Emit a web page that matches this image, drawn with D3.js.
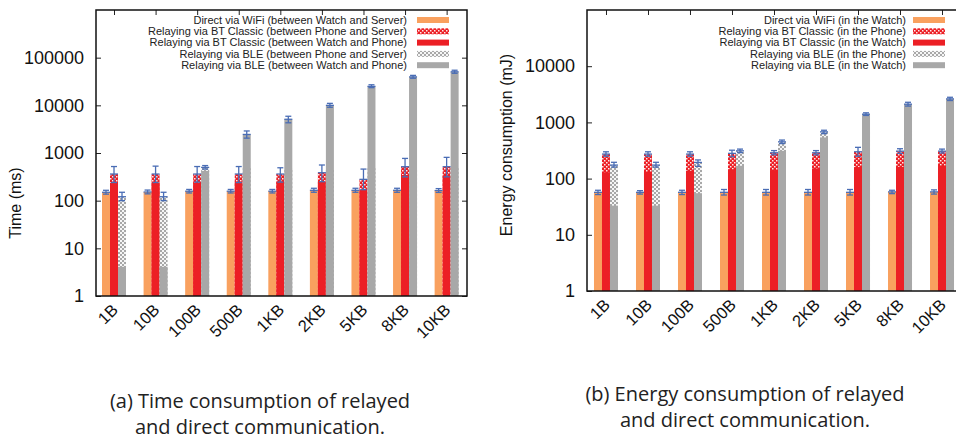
<!DOCTYPE html>
<html>
<head>
<meta charset="utf-8">
<script src="https://cdn.jsdelivr.net/npm/d3@7"></script>
<style>
  body { margin: 0; background: #fff; }
  svg { display: block; }
</style>
</head>
<body>
<svg id="chart" width="956" height="440"></svg>
<script>
// ---- data ----
var categories = ["1B", "10B", "100B", "500B", "1KB", "2KB", "5KB", "8KB", "10KB"];

// (a) time, ms
var timeLegend = [
  "Direct via WiFi (between Watch and Server)",
  "Relaying via BT Classic (between Phone and Server)",
  "Relaying via BT Classic (between Watch and Phone)",
  "Relaying via BLE (between Phone and Server)",
  "Relaying via BLE (between Watch and Phone)"
];
var timeWifi = [150, 152, 158, 158, 158, 165, 165, 165, 163];
var timeWifiErr = [[137,165],[139,167],[145,172],[145,172],[145,172],[150,182],[150,182],[150,182],[149,179]];
var timeBtServer = [362, 362, 362, 362, 362, 386, 280, 516, 516];
var timeBtServerErr = [[240,520],[240,530],[245,520],[240,520],[245,490],[250,560],[170,460],[316,770],[316,810]];
var timeBtWatch = [238, 240, 240, 250, 250, 250, 168, 345, 335];
var timeBleServer = [121, 121, 500, 480, 480, 480, 480, 480, 480];
var timeBleServerErr = [[100,150],[100,150],[460,545],null,null,null,null,null,null];
var timeBleWatch = [4.1, 4.1, 420, 2450, 5100, 10000, 25000, 39500, 50500];
var timeBleWatchErr = [null,null,null,[2050,2900],[4300,5900],[9100,11000],[23500,27000],[37000,42500],[47000,54500]];

// (b) energy, mJ
var energyLegend = [
  "Direct via WiFi (in the Watch)",
  "Relaying via BT Classic (in the Phone)",
  "Relaying via BT Classic (in the Watch)",
  "Relaying via BLE (in the Phone)",
  "Relaying via BLE (in the Watch)"
];
var energyWifi = [57, 57, 57, 57, 57, 57, 57, 58, 58];
var energyWifiErr = [[52,62],[53,61],[52,62],[51,64],[51,64],[51,64],[51,64],[54,62],[53,63]];
var energyBtPhone = [273, 273, 273, 281, 288, 288, 300, 308, 308];
var energyBtPhoneErr = [[250,300],[250,300],[250,300],[245,320],[265,315],[265,315],[250,360],[280,340],[285,335]];
var energyBtWatch = [130, 131, 138, 146, 142, 152, 160, 162, 169];
var energyBlePhone = [174, 174, 194, 312, 451, 679, 700, 700, 700];
var energyBlePhoneErr = [[160,195],[160,195],[165,215],[290,335],[420,485],[630,725],null,null,null];
var energyBleWatch = [33, 33, 55, 169, 312, 540, 1400, 2110, 2620];
var energyBleWatchErr = [null,null,null,null,null,null,[1330,1480],[1950,2280],[2450,2800]];

var yTicksTime = [1, 10, 100, 1000, 10000, 100000];
var yTicksEnergy = [1, 10, 100, 1000, 10000];

// ---- drawing ----
var ORANGE = "#f9a15f", RED = "#ec1f25", GRAY = "#a8a8a8", ERR = "#4a6db5";
var FONT = "'Liberation Sans', Arial, Helvetica, sans-serif";
var barW = 8;

var svg = d3.select("#chart");
var defs = svg.append("defs");

function checker(id, color, sq) {
  var p = defs.append("pattern")
    .attr("id", id)
    .attr("patternUnits", "userSpaceOnUse")
    .attr("width", 4).attr("height", 4);
  p.append("rect").attr("width", 4).attr("height", 4).attr("fill", color);
  p.append("rect").attr("x", 0).attr("y", 0).attr("width", sq).attr("height", sq).attr("fill", "#fff").attr("opacity", 0.9);
  p.append("rect").attr("x", 2).attr("y", 2).attr("width", sq).attr("height", sq).attr("fill", "#fff").attr("opacity", 0.9);
}
checker("redCheck", RED, 1.5);
checker("grayCheck", GRAY, 2);

function plot_panel(p) {
  var g = svg.append("g");
  var x = d3.scaleLinear().domain(p.xdomain).range([p.left, p.right]);
  var y = d3.scaleLog().domain(p.ydomain).range([p.bottom, p.top]);

  // bars
  p.series.forEach(function(s) {
    g.append("g").selectAll("rect")
      .data(s.vals)
      .join("rect")
      .attr("x", function(d, i) { return x(i) + s.off; })
      .attr("width", barW)
      .attr("y", function(d) { return y(d); })
      .attr("height", function(d) { return y(p.ydomain[0]) - y(d); })
      .attr("fill", s.fill);
  });

  // error bars
  p.series.forEach(function(s) {
    if (!s.err) return;
    var eb = g.append("g").attr("stroke", ERR).attr("stroke-width", 1.3);
    s.err.forEach(function(e, i) {
      if (!e) return;
      var cx = x(i) + s.off + barW / 2;
      eb.append("line").attr("x1", cx).attr("x2", cx).attr("y1", y(e[0])).attr("y2", y(e[1]));
      eb.append("line").attr("x1", cx - 3).attr("x2", cx + 3).attr("y1", y(e[0])).attr("y2", y(e[0]));
      eb.append("line").attr("x1", cx - 3).attr("x2", cx + 3).attr("y1", y(e[1])).attr("y2", y(e[1]));
      eb.append("line").attr("x1", cx - 4).attr("x2", cx + 4).attr("y1", y(s.vals[i])).attr("y2", y(s.vals[i]));
    });
  });

  // axes
  var yAxis = d3.axisLeft(y).tickValues(p.yticks).tickFormat(d3.format("d")).tickSize(-5).tickPadding(12);
  var ya = g.append("g").attr("transform", "translate(" + p.left + ",0)").call(yAxis);
  ya.selectAll("text").attr("font-size", "18px").attr("font-family", FONT).attr("fill", "#111");

  g.append("g").attr("transform", "translate(" + p.right + ",0)")
    .call(d3.axisRight(y).tickValues(p.yticks).tickFormat("").tickSize(-5));

  var idx = d3.range(categories.length);
  g.append("g").attr("transform", "translate(0," + p.top + ")")
    .call(d3.axisTop(x).tickValues(idx).tickFormat("").tickSize(-5));

  g.selectAll(".domain").remove();
  g.selectAll(".tick line").attr("stroke", "#222").attr("stroke-width", 1);

  // frame
  g.append("rect")
    .attr("x", p.left).attr("y", p.top)
    .attr("width", p.right - p.left).attr("height", p.bottom - p.top)
    .attr("fill", "none").attr("stroke", "#111").attr("stroke-width", 1.5);

  // category labels
  g.append("g").selectAll("text")
    .data(categories)
    .join("text")
    .attr("transform", function(d, i) { return "translate(" + (x(i) + 5) + "," + (p.bottom + 15) + ") rotate(-45)"; })
    .attr("text-anchor", "end")
    .attr("font-family", FONT)
    .attr("font-size", "16.5px")
    .attr("fill", "#111")
    .text(function(d) { return d; });

  // y title
  g.append("text")
    .attr("transform", "translate(" + p.ytitleX + "," + p.ytitleY + ") rotate(-90)")
    .attr("text-anchor", "middle")
    .attr("font-family", FONT)
    .attr("font-size", "16px")
    .attr("fill", "#111")
    .text(p.ytitle);

  // legend
  var lg = g.append("g");
  p.legend.forEach(function(t, i) {
    var ly = p.legendY + i * 11.3;
    lg.append("text")
      .attr("x", p.legendX).attr("y", ly)
      .attr("dy", "0.35em")
      .attr("text-anchor", "end")
      .attr("font-family", FONT)
      .attr("font-size", "11px")
      .attr("fill", "#222")
      .text(t);
    lg.append("rect")
      .attr("x", p.legendX + p.swatchGap).attr("y", ly - 3)
      .attr("width", 32).attr("height", 6)
      .attr("fill", p.series[i].fill);
  });

  // caption
  p.caption.forEach(function(t, i) {
    svg.append("text")
      .attr("x", p.captionX).attr("y", p.captionY + i * 26)
      .attr("text-anchor", "middle")
      .attr("font-family", "'Open Sans', 'Noto Sans', sans-serif")
      .attr("font-size", "20px")
      .attr("fill", "#222")
      .text(t);
  });
}

plot_panel({
  left: 96, right: 467, top: 10, bottom: 296,
  xdomain: [-0.433, 8.49], ydomain: [1, 1e6], yticks: yTicksTime,
  ytitle: "Time (ms)", ytitleX: 21, ytitleY: 203,
  legend: timeLegend, legendX: 407, legendY: 20, swatchGap: 10,
  caption: ["(a) Time consumption of relayed", "and direct communication."],
  captionX: 260, captionY: 408,
  series: [
    { vals: timeWifi, err: timeWifiErr, off: -12, fill: ORANGE },
    { vals: timeBtServer, err: timeBtServerErr, off: -4, fill: "url(#redCheck)" },
    { vals: timeBtWatch, err: null, off: -4, fill: RED },
    { vals: timeBleServer, err: timeBleServerErr, off: 4, fill: "url(#grayCheck)" },
    { vals: timeBleWatch, err: timeBleWatchErr, off: 4, fill: GRAY }
  ]
});

plot_panel({
  left: 587, right: 961, top: 10, bottom: 291,
  xdomain: [-0.452, 8.452], ydomain: [1, 1e5], yticks: yTicksEnergy,
  ytitle: "Energy consumption (mJ)", ytitleX: 512, ytitleY: 145,
  legend: energyLegend, legendX: 906, legendY: 20, swatchGap: 7,
  caption: ["(b) Energy consumption of relayed", "and direct communication."],
  captionX: 745, captionY: 401,
  series: [
    { vals: energyWifi, err: energyWifiErr, off: -12, fill: ORANGE },
    { vals: energyBtPhone, err: energyBtPhoneErr, off: -4, fill: "url(#redCheck)" },
    { vals: energyBtWatch, err: null, off: -4, fill: RED },
    { vals: energyBlePhone, err: energyBlePhoneErr, off: 4, fill: "url(#grayCheck)" },
    { vals: energyBleWatch, err: energyBleWatchErr, off: 4, fill: GRAY }
  ]
});
</script>
</body>
</html>
